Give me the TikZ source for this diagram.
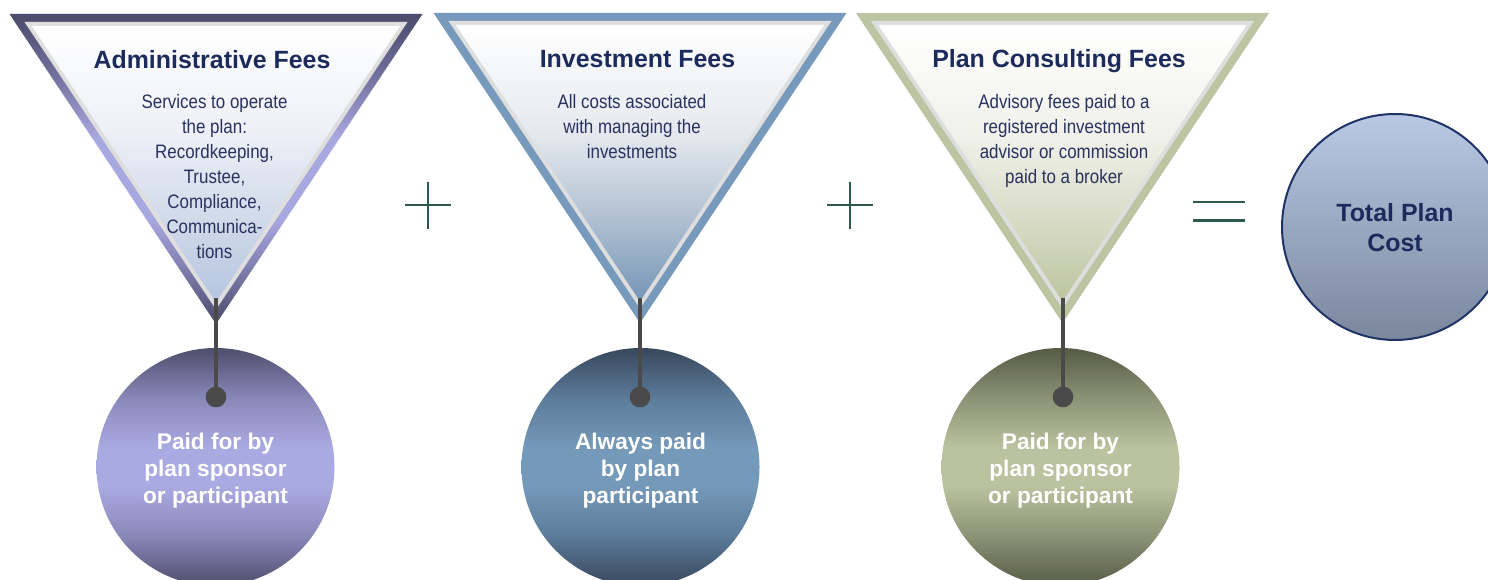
\documentclass[tikz,border=0pt]{standalone}
\usepackage{fontspec}
\setmainfont{Liberation Sans}
\newfontfamily\narrowfont[FakeStretch=0.87]{Liberation Sans}

\definecolor{titleblue}{HTML}{1C2B5B}
\definecolor{bodyblue}{HTML}{28325E}
\definecolor{signgreen}{HTML}{2E5A4C}
\definecolor{pingrey}{HTML}{4A4A4A}
\definecolor{innerline}{HTML}{DEDEDE}
% admin (lavender)
\definecolor{aDark}{HTML}{4B4B6B}
\definecolor{aMid}{HTML}{6C6C98}
\definecolor{aLight}{HTML}{A8A8E0}
\definecolor{aMidB}{HTML}{8484B6}
% circles
\definecolor{caDark}{HTML}{4E4E6C}
\definecolor{caMid}{HTML}{8A8ABC}
\definecolor{caLight}{HTML}{AAAAE2}
\definecolor{cbDark}{HTML}{38485C}
\definecolor{cbMid}{HTML}{5D7D9C}
\definecolor{cbLight}{HTML}{7599B9}
\definecolor{ccDark}{HTML}{565B45}
\definecolor{ccMid}{HTML}{8E9578}
\definecolor{ccLight}{HTML}{BAC29F}
% borders
\definecolor{bBorder}{HTML}{7799BB}
\definecolor{cBorder}{HTML}{BCC5A2}
% fills
\definecolor{faA}{HTML}{ECEFF6}
\definecolor{faB}{HTML}{D0DAE9}
\definecolor{faC}{HTML}{B4C4E0}
\definecolor{fbA}{HTML}{E4E8EE}
\definecolor{fbB}{HTML}{B0C0D2}
\definecolor{fbC}{HTML}{7596B6}
\definecolor{fcA}{HTML}{F0F1EA}
\definecolor{fcB}{HTML}{D8DCC6}
\definecolor{fcC}{HTML}{BCC4A0}
% total
\definecolor{totTop}{HTML}{B9C9E5}
\definecolor{totBot}{HTML}{7A879D}
\definecolor{totLine}{HTML}{1F3366}

\pgfdeclareverticalshading{triAborder}{100bp}{color(0bp)=(aDark); color(25bp)=(aDark); color(35bp)=(aMidB); color(42bp)=(aLight); color(55bp)=(aLight); color(66bp)=(aMid); color(75bp)=(aDark); color(100bp)=(aDark)}
\pgfdeclareverticalshading{triAfill}{100bp}{color(0bp)=(faC); color(25bp)=(faC); color(40bp)=(faB); color(55bp)=(faA); color(75bp)=(white); color(100bp)=(white)}
\pgfdeclareverticalshading{triBfill}{100bp}{color(0bp)=(fbC); color(25bp)=(fbC); color(40bp)=(fbB); color(55bp)=(fbA); color(75bp)=(white); color(100bp)=(white)}
\pgfdeclareverticalshading{triCfill}{100bp}{color(0bp)=(fcC); color(25bp)=(fcC); color(40bp)=(fcB); color(55bp)=(fcA); color(75bp)=(white); color(100bp)=(white)}
\pgfdeclareverticalshading{circA}{100bp}{color(0bp)=(caDark); color(25bp)=(caDark); color(36bp)=(caMid); color(46bp)=(caLight); color(54bp)=(caLight); color(64bp)=(caMid); color(75bp)=(caDark); color(100bp)=(caDark)}
\pgfdeclareverticalshading{circB}{100bp}{color(0bp)=(cbDark); color(25bp)=(cbDark); color(36bp)=(cbMid); color(46bp)=(cbLight); color(54bp)=(cbLight); color(64bp)=(cbMid); color(75bp)=(cbDark); color(100bp)=(cbDark)}
\pgfdeclareverticalshading{circC}{100bp}{color(0bp)=(ccDark); color(25bp)=(ccDark); color(36bp)=(ccMid); color(46bp)=(ccLight); color(54bp)=(ccLight); color(64bp)=(ccMid); color(75bp)=(ccDark); color(100bp)=(ccDark)}

% #1 centre x, #2 incentre y, #3 outer band options, #4 fill shading
\newcommand{\feetri}[4]{%
  \path[#3] (#1-206.5,#2-110.56) -- (#1+206.5,#2-110.56) -- (#1,#2+199.44) -- cycle;
  \begin{scope}[shift={(#1,#2)}, scale=0.9276]
    \fill[innerline] (-206.5,-110.56) -- (206.5,-110.56) -- (0,199.44) -- cycle;
  \end{scope}
  \begin{scope}[shift={(#1,#2)}, scale=0.8915]
    \shade[shading=#4] (-206.5,-110.56) -- (206.5,-110.56) -- (0,199.44) -- cycle;
  \end{scope}
}

\tikzset{
  feetitle/.style={anchor=north, inner sep=0pt, text=titleblue,
    font=\bfseries\fontsize{18.7pt}{22pt}\selectfont},
  feebody/.style={anchor=north, inner sep=0pt, text=bodyblue, align=center,
    font=\narrowfont\fontsize{14.6pt}{18.75pt}\selectfont},
  paycircle/.style={circle, minimum size=178.5pt, inner sep=0pt, shade},
  paytext/.style={inner sep=0pt, align=center,
    text=white, font=\bfseries\fontsize{17pt}{20.25pt}\selectfont},
  pin/.style={circle, fill=pingrey, minimum size=15.5pt, inner sep=0pt},
  pinline/.style={draw=pingrey, line width=2.3pt},
  signline/.style={draw=signgreen, line width=1.6pt},
}

\begin{document}
\begin{tikzpicture}[x=0.75pt, y=-0.75pt]
\useasboundingbox (0,0) rectangle (1488,580);
\clip (0,0) rectangle (1488,580);

% triangles
\feetri{216}{124.56}{shade, shading=triAborder}{triAfill}
\feetri{640}{123.56}{fill=bBorder}{triBfill}
\feetri{1062.5}{123.56}{fill=cBorder}{triCfill}

\coordinate (tipA) at (216,298);
\coordinate (tipB) at (640,298);
\coordinate (tipC) at (1063,298);

% titles and descriptions
\node[feetitle] (titleA) at (212,50) {Administrative Fees};
\node[feetitle] (titleB) at (637.5,50) {Investment Fees};
\node[feetitle] (titleC) at (1059,49.5) {Plan Consulting Fees};

\node[feebody] (bodyA) at (214.5,94.5) {Services to operate\\the plan:\\Recordkeeping,\\Trustee,\\Compliance,\\Communica-\\tions};
\node[feebody] (bodyB) at (632,94.5) {All costs associated\\with managing the\\investments};
\node[feebody] (bodyC) at (1064,94.5) {Advisory fees paid to a\\registered investment\\advisor or commission\\paid to a broker};

% plus and equal signs
\draw[signline] (405,205) -- (451,205) (428,182) -- (428,229);
\draw[signline] (827,205) -- (873,205) (850,182) -- (850,229);
\draw[signline] (1193,202) -- (1245,202) (1193,220.5) -- (1245,220.5);

% payer circles
\node[paycircle, shading=circA] (payA) at (215.5,467) {};
\node[paycircle, shading=circB] (payB) at (640.5,467) {};
\node[paycircle, shading=circC] (payC) at (1060.5,467) {};
\node[paytext] (payAtext) at (215.5,471) {Paid for by\\plan sponsor\\or participant};
\node[paytext] (payBtext) at (640.5,471) {Always paid\\by plan\\participant};
\node[paytext] (payCtext) at (1060.5,471) {Paid for by\\plan sponsor\\or participant};

% pins
\node[pin] (pinA) at (216,397) {};
\node[pin] (pinB) at (640,397) {};
\node[pin] (pinC) at (1063,397) {};
\draw[pinline] (tipA) -- (pinA.center);
\draw[pinline] (tipB) -- (pinB.center);
\draw[pinline] (tipC) -- (pinC.center);

% total
\node[circle, minimum size=169.5pt, inner sep=0pt, draw=totLine, line width=1.5pt,
  top color=totTop, bottom color=totBot] (total) at (1395,227) {};
\node[inner sep=0pt, align=center, text=titleblue,
  font=\bfseries\fontsize{18.7pt}{22.5pt}\selectfont] (totaltext) at (1395,228) {Total Plan\\Cost};
\end{tikzpicture}
\end{document}
